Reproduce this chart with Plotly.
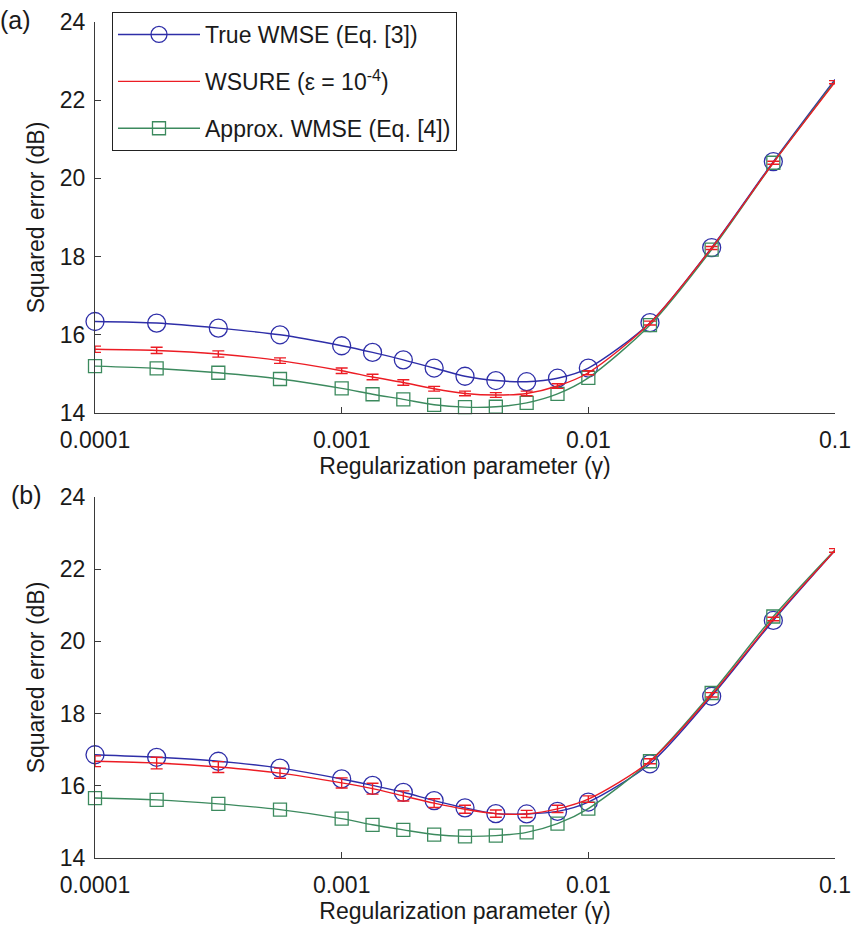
import plotly.graph_objects as go

# ---------------- data ----------------
gamma = [1.0e-4, 1.778e-4, 3.162e-4, 5.623e-4, 1.0e-3, 1.334e-3, 1.778e-3,
         2.371e-3, 3.162e-3, 4.217e-3, 5.623e-3, 7.499e-3, 1.0e-2,
         1.778e-2, 3.162e-2, 5.623e-2, 1.0e-1]

# panel (a)
true_a = [16.34, 16.30, 16.17, 16.00, 15.72, 15.55, 15.36, 15.15, 14.94,
          14.83, 14.80, 14.89, 15.15, 16.31, 18.23, 20.43, 22.53]
sure_a = [15.63, 15.60, 15.51, 15.34, 15.08, 14.92, 14.78, 14.62, 14.50,
          14.46, 14.50, 14.69, 15.03, 16.30, 18.22, 20.40, 22.46]
sure_err_a = [0.08, 0.08, 0.08, 0.07, 0.07, 0.07, 0.07, 0.06, 0.06,
              0.06, 0.06, 0.06, 0.05, 0.05, 0.04, 0.04, 0.04]
approx_a = [15.20, 15.14, 15.03, 14.87, 14.63, 14.48, 14.35, 14.21, 14.15,
            14.16, 14.26, 14.49, 14.90, 16.25, 18.18, 20.40, 22.49]

# panel (b)
true_b = [16.86, 16.79, 16.68, 16.49, 16.19, 16.01, 15.82, 15.59, 15.39,
          15.23, 15.22, 15.29, 15.55, 16.61, 18.48, 20.58, 22.52]
sure_b = [16.68, 16.63, 16.52, 16.35, 16.08, 15.92, 15.72, 15.52, 15.35,
          15.23, 15.22, 15.36, 15.63, 16.68, 18.52, 20.62, 22.52]
sure_err_b = [0.15, 0.16, 0.15, 0.14, 0.14, 0.15, 0.14, 0.12, 0.11,
              0.10, 0.10, 0.10, 0.09, 0.07, 0.06, 0.05, 0.05]
approx_b = [15.66, 15.61, 15.50, 15.34, 15.09, 14.92, 14.78, 14.65, 14.60,
            14.62, 14.71, 14.95, 15.37, 16.68, 18.57, 20.69, 22.54]

x_tickvals = [1e-4, 1e-3, 1e-2, 1e-1]
x_ticktext = ["0.0001", "0.001", "0.01", "0.1"]
y_tickvals = [14, 16, 18, 20, 22, 24]

names = ["True WMSE (Eq. [3])", "WSURE (\u03b5 = 10<sup>-4</sup>)",
         "Approx. WMSE (Eq. [4])"]

# ---------------- style ----------------
BLUE = "#2e2ea8"
RED = "#ec1c24"
GREEN = "#3c8a5e"
AX = "#3a3a3a"
TXT = "#1a1a1a"
FONT = "Liberation Sans, Arial, sans-serif"
FS = 23

fig = go.Figure()

panels = [
    (true_a, sure_a, sure_err_a, approx_a, "x", "y", True),
    (true_b, sure_b, sure_err_b, approx_b, "x2", "y2", False),
]

for tr, su, se, ap, xa, ya, show in panels:
    fig.add_trace(go.Scatter(
        x=gamma, y=tr, mode="lines+markers", name=names[0],
        line=dict(color=BLUE, width=1.4, shape="spline", smoothing=0.8),
        marker=dict(symbol="circle-open", size=18, color=BLUE,
                    line=dict(width=1.3, color=BLUE)),
        xaxis=xa, yaxis=ya, showlegend=show, legendgroup="g1",
        legendrank=1, cliponaxis=False))
    fig.add_trace(go.Scatter(
        x=gamma, y=ap, mode="lines+markers", name=names[2],
        line=dict(color=GREEN, width=1.4, shape="spline", smoothing=0.8),
        marker=dict(symbol="square-open", size=13, color=GREEN,
                    line=dict(width=1.3, color=GREEN)),
        xaxis=xa, yaxis=ya, showlegend=show, legendgroup="g3",
        legendrank=3, cliponaxis=False))
    fig.add_trace(go.Scatter(
        x=gamma, y=su, mode="lines", name=names[1],
        line=dict(color=RED, width=1.4, shape="spline", smoothing=0.8),
        error_y=dict(type="data", array=se, color=RED, thickness=1.4,
                     width=6),
        xaxis=xa, yaxis=ya, showlegend=show, legendgroup="g2",
        legendrank=2, cliponaxis=False))

# plot area: x 95..835, panel a y 22.7..413, panel b y 497..858
L, R, T, B = 95, 16, 22, 69
H = 927
ph = H - T - B
def py(pix):
    return (H - B - pix) / ph

xcommon = dict(type="log", range=[-4, -1], tickvals=x_tickvals,
               ticktext=x_ticktext, showline=True, linecolor=AX,
               linewidth=1.2, ticks="inside", ticklen=6, tickcolor=AX,
               tickwidth=1.2, showgrid=False, zeroline=False,
               ticklabelstandoff=6,
               tickfont=dict(size=FS, color=TXT, family=FONT),
               title=dict(text="Regularization parameter (\u03b3)",
                          font=dict(size=FS, color=TXT, family=FONT),
                          standoff=4))
ycommon = dict(range=[14, 24], tickvals=y_tickvals, showline=True,
               linecolor=AX, linewidth=1.2, ticks="inside", ticklen=6,
               tickcolor=AX, tickwidth=1.2, showgrid=False, zeroline=False,
               ticklabelstandoff=4,
               tickfont=dict(size=FS, color=TXT, family=FONT),
               title=dict(text="Squared error (dB)",
                          font=dict(size=FS, color=TXT, family=FONT),
                          standoff=8))

fig.update_layout(
    width=851, height=927,
    margin=dict(l=L, r=R, t=T, b=B, autoexpand=False),
    paper_bgcolor="white", plot_bgcolor="white",
    font=dict(family=FONT, size=FS, color=TXT),
    xaxis=dict(domain=[0, 1], anchor="y", **xcommon),
    yaxis=dict(domain=[py(413), 1.0], anchor="x", **ycommon),
    xaxis2=dict(domain=[0, 1], anchor="y2", **xcommon),
    yaxis2=dict(domain=[0, py(497)], anchor="x2", **ycommon),
    legend=dict(x=(112 - L) / (851 - L - R), y=py(12), xanchor="left",
                yanchor="top", bgcolor="white", bordercolor="#222",
                borderwidth=1, font=dict(size=FS, family=FONT, color=TXT),
                tracegroupgap=14, itemwidth=82),
    annotations=[
        dict(text="(a)", x=0, y=py(20), xref="paper", yref="paper",
             xanchor="left", yanchor="middle", showarrow=False,
             xshift=-L - 2, font=dict(size=25, family=FONT, color=TXT)),
        dict(text="(b)", x=0, y=py(495), xref="paper", yref="paper",
             xanchor="left", yanchor="middle", showarrow=False,
             xshift=-L + 9, font=dict(size=25, family=FONT, color=TXT)),
    ],
)

fig.write_html("out.html", config={"displayModeBar": False},
               post_script="document.body.style.margin='0px';"
                           "document.body.style.padding='0px';")
